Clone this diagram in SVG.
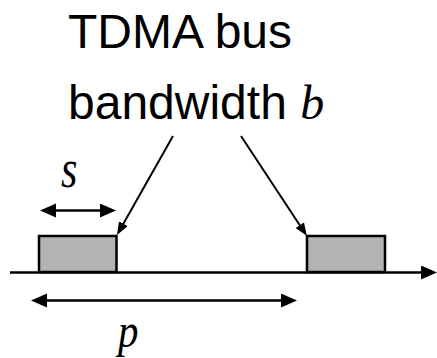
<svg xmlns="http://www.w3.org/2000/svg" width="437" height="358" viewBox="0 0 437 358">
  <style>
    .lbl { font-family: "Liberation Sans", Arial, sans-serif; font-size: 48px; fill: #000; }
    .var { font-family: "Liberation Serif", "Times New Roman", serif; font-style: italic; fill: #000; }
    .ln { stroke: #000; fill: none; }
    .slot { fill: #b3b3b3; stroke: #000; stroke-width: 2.5; }
  </style>
  <defs>
    <marker id="ah" markerUnits="userSpaceOnUse" markerWidth="20" markerHeight="16" refX="8" refY="7" orient="auto-start-reverse">
      <path d="M0,0 L16,7 L0,14 z" fill="#000"/>
    </marker>
    <marker id="ahs" markerUnits="userSpaceOnUse" markerWidth="16" markerHeight="12" refX="6" refY="5" orient="auto">
      <path d="M0,0 L13,5 L0,10 z" fill="#000"/>
    </marker>
  </defs>

  <g id="title">
    <text class="lbl" x="68" y="48">TDMA bus</text>
    <text class="lbl" x="68" y="119">bandwidth <tspan class="var" font-size="48">b</tspan></text>
  </g>

  <g id="slot1">
    <rect class="slot" x="39" y="236" width="77.5" height="36"/>
  </g>
  <g id="slot2">
    <rect class="slot" x="307" y="236" width="78" height="36"/>
  </g>

  <g id="label-s">
    <text class="var" x="0" y="0" font-size="54" transform="translate(61,187) scale(0.78,1)">s</text>
  </g>
  <g id="label-p">
    <text class="var" x="0" y="0" font-size="48" transform="translate(118,347) scale(0.85,1)">p</text>
  </g>

  <g id="connectors">
    <line class="ln" x1="10" y1="272.5" x2="429" y2="272.5" stroke-width="2.5" marker-end="url(#ah)"/>
    <line class="ln" x1="48" y1="210.5" x2="108" y2="210.5" stroke-width="2.5" marker-start="url(#ah)" marker-end="url(#ah)"/>
    <line class="ln" x1="39" y1="300.5" x2="289" y2="300.5" stroke-width="2.5" marker-start="url(#ah)" marker-end="url(#ah)"/>
    <line class="ln" x1="173" y1="136" x2="120.4" y2="228.9" stroke-width="2" marker-end="url(#ahs)"/>
    <line class="ln" x1="241" y1="136" x2="303.1" y2="230.2" stroke-width="2" marker-end="url(#ahs)"/>
  </g>
</svg>
